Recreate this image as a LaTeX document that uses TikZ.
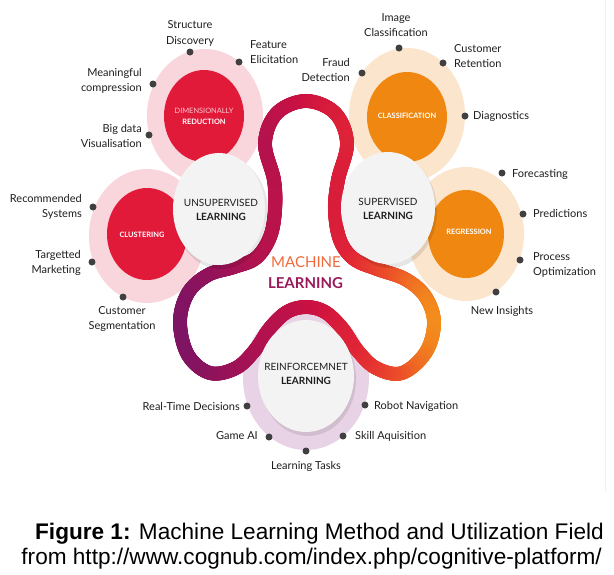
\documentclass[tikz,border=0pt]{standalone}
\usepackage{fontspec}
\setmainfont{Lato}
\newfontfamily\capfont{Liberation Sans}
\usetikzlibrary{decorations.markings}
\definecolor{pinkring}{HTML}{F8D6DC}
\definecolor{redc}{HTML}{E21A3A}
\definecolor{beigering}{HTML}{FCE5CD}
\definecolor{orangec}{HTML}{F08710}
\definecolor{lavring}{HTML}{E8D3E6}
\definecolor{whitec}{HTML}{F3F3F3}
\definecolor{dotgray}{HTML}{404040}
\definecolor{labeltext}{HTML}{1E1E1E}
\definecolor{dimtext}{HTML}{F9C8D0}
\definecolor{mlorange}{HTML}{EE6A3C}
\definecolor{mlpurple}{HTML}{9B1A5C}
\definecolor{rib0}{HTML}{7A1466}
\definecolor{rib1}{HTML}{951259}
\definecolor{rib2}{HTML}{B3124E}
\definecolor{rib3}{HTML}{CC1142}
\definecolor{rib4}{HTML}{E02436}
\definecolor{rib5}{HTML}{EC5228}
\definecolor{rib6}{HTML}{F4971A}
\tikzset{
  lbl/.style={font=\fontsize{11}{15.5}\selectfont, text=labeltext, inner sep=0pt},
  dotnode/.style={circle, fill=dotgray, inner sep=0pt, minimum size=7pt},
  wtext/.style={font=\fontsize{10}{14}\selectfont, text=labeltext, align=center, inner sep=0pt},
  ctext/.style={font=\fontsize{7.4}{10.5}\selectfont\bfseries, text=white, align=center, inner sep=0pt},
  ribbon/.style={
    decoration={markings,
      mark=between positions 0 and 1 step 0.8pt with {%
        \pgfgettransformentries{\RbA}{\RbB}{\RbC}{\RbD}{\RbX}{\RbY}%
        \pgfmathsetmacro{\RbT}{max(0,min(5.999,(\RbX-173)*6/268))}%
        \pgfmathtruncatemacro{\RbI}{floor(\RbT)}%
        \pgfmathtruncatemacro{\RbJ}{\RbI+1}%
        \pgfmathtruncatemacro{\RbP}{round((\RbT-\RbI)*100)}%
        \colorlet{ribcur}{rib\RbJ!\RbP!rib\RbI}%
        \fill[ribcur] (0,0) circle (7pt);%
      }},
    decorate}
}
\begin{document}
\begin{tikzpicture}[x=1pt,y=-1pt]
\useasboundingbox (0,0) rectangle (614,574);
\fill[white] (0,0) rectangle (614,574);
\draw[gray!12, line width=0.8pt] (605,0) -- (605,492);

% outer rings
\fill[pinkring] (205,116) ellipse[x radius=58pt, y radius=67pt];
\fill[pinkring] (147,236) ellipse[x radius=58pt, y radius=67pt];
\fill[beigering] (407,115) ellipse[x radius=58pt, y radius=67pt];
\fill[beigering] (466,234) ellipse[x radius=58pt, y radius=67pt];
\fill[lavring] (306,378) ellipse[x radius=63pt, y radius=72pt];

% inner coloured circles
\fill[redc] (204,116) ellipse[x radius=40pt, y radius=46pt];
\fill[redc] (147,234) ellipse[x radius=40pt, y radius=46pt];
\fill[orangec] (407,117) ellipse[x radius=40pt, y radius=45pt];
\fill[orangec] (466,234) ellipse[x radius=38pt, y radius=44pt];

% ribbon
\path[ribbon] plot[smooth cycle, tension=0.6] coordinates {
 (306,101) (335,113) (347,143) (338,180) (335,210) (340,240) (354,259)
 (377,269) (405,279) (425,296) (434,322) (426,352) (402,373) (376,368)
 (357,350) (342,328) (325,312) (306,307) (287,312) (270,328) (255,350)
 (236,368) (210,373) (188,355) (180,322) (188,293) (208,275) (234,267)
 (256,258) (270,237) (275,210) (274,180) (265,143) (277,113)};

% white circles with soft shadow
\fill[black, opacity=0.10] (221,212) ellipse[x radius=47pt, y radius=57pt];
\fill[black, opacity=0.10] (390,211) ellipse[x radius=47pt, y radius=57pt];
\fill[black, opacity=0.10] (308,379) ellipse[x radius=48pt, y radius=57pt];
\fill[whitec] (219,209) ellipse[x radius=46pt, y radius=56pt];
\fill[whitec] (388,208) ellipse[x radius=47pt, y radius=56pt];
\fill[whitec] (306,376) ellipse[x radius=48pt, y radius=56pt];

% circle texts
\node[wtext] (unsup) at (221,210) {UNSUPERVISED\\\textbf{LEARNING}};
\node[wtext] (sup) at (388,208.5) {SUPERVISED\\\textbf{LEARNING}};
\node[wtext] (reinf) at (306,374) {REINFORCEMNET\\\textbf{LEARNING}};
\node[ctext] (dimred) at (204,116.5) {\textcolor{dimtext}{\mdseries DIMENSIONALLY}\\REDUCTION};
\node[ctext] (clust) at (142,235) {CLUSTERING};
\node[ctext] (classif) at (407,116) {CLASSIFICATION};
\node[ctext] (regr) at (469,232) {REGRESSION};

% title
\node[font=\fontsize{15}{21}\selectfont, text=mlorange, inner sep=0pt] (mach) at (306,262) {MACHINE};
\node[font=\fontsize{15}{21}\selectfont\bfseries, text=mlpurple, inner sep=0pt] (learn) at (305.5,283) {LEARNING};

% dots
\node[dotnode] (dStruct) at (190,52) {};
\node[dotnode] (dFeat) at (239,62) {};
\node[dotnode] (dMean) at (153,84) {};
\node[dotnode] (dBig) at (149,135) {};
\node[dotnode] (dRec) at (93,207) {};
\node[dotnode] (dTarg) at (92,262) {};
\node[dotnode] (dCust) at (123,297) {};
\node[dotnode] (dReal) at (247,406) {};
\node[dotnode] (dGame) at (269,437) {};
\node[dotnode] (dLearn) at (306,451) {};
\node[dotnode] (dSkill) at (343,436) {};
\node[dotnode] (dRobot) at (365,405) {};
\node[dotnode] (dNew) at (496,292) {};
\node[dotnode] (dProc) at (520,260) {};
\node[dotnode] (dPred) at (523,214) {};
\node[dotnode] (dFore) at (502,173) {};
\node[dotnode] (dDiag) at (465,116) {};
\node[dotnode] (dCret) at (443,63) {};
\node[dotnode] (dImg) at (399,48) {};
\node[dotnode] (dFraud) at (362,73) {};

% labels
\node[lbl, align=center] (tStruct) at (190,33.5) {Structure\\Discovery};
\node[lbl, align=left, anchor=west] (tFeat) at (250,52) {Feature\\Elicitation};
\node[lbl, align=right, anchor=east] (tMean) at (142,81) {Meaningful\\compression};
\node[lbl, align=right, anchor=east] (tBig) at (142,136) {Big data\\Visualisation};
\node[lbl, align=right, anchor=east] (tRec) at (82,207) {Recommended\\Systems};
\node[lbl, align=right, anchor=east] (tTarg) at (81,263) {Targetted\\Marketing};
\node[lbl, align=center] (tCust) at (122,319) {Customer\\Segmentation};
\node[lbl, anchor=east] (tReal) at (240,406) {Real-Time Decisions};
\node[lbl, anchor=east] (tGame) at (258,436) {Game AI};
\node[lbl] (tLearn) at (306,466) {Learning Tasks};
\node[lbl, anchor=west] (tSkill) at (355,436) {Skill Aquisition};
\node[lbl, anchor=west] (tRobot) at (374,406) {Robot Navigation};
\node[lbl] (tNew) at (502,311) {New Insights};
\node[lbl, align=left, anchor=west] (tProc) at (533,265) {Process\\Optimization};
\node[lbl, anchor=west] (tPred) at (533,213) {Predictions};
\node[lbl, anchor=west] (tFore) at (512,174) {Forecasting};
\node[lbl, anchor=west] (tDiag) at (473,116) {Diagnostics};
\node[lbl, align=left, anchor=west] (tCret) at (454,56) {Customer\\Retention};
\node[lbl, align=center] (tImg) at (396,25) {Image\\Classification};
\node[lbl, align=right, anchor=east] (tFraud) at (350,70) {Fraud\\Detection};

% caption
\node[font=\capfont\fontsize{22.6}{25}\selectfont, anchor=base east, inner sep=0pt] (cap1) at (604,539) {\textbf{Figure 1:} Machine Learning Method and Utilization Field};
\node[font=\capfont\fontsize{22.6}{25}\selectfont, anchor=base east, inner sep=0pt] (cap2) at (602,564) {from http://www.cognub.com/index.php/cognitive-platform/};
\end{tikzpicture}
\end{document}
